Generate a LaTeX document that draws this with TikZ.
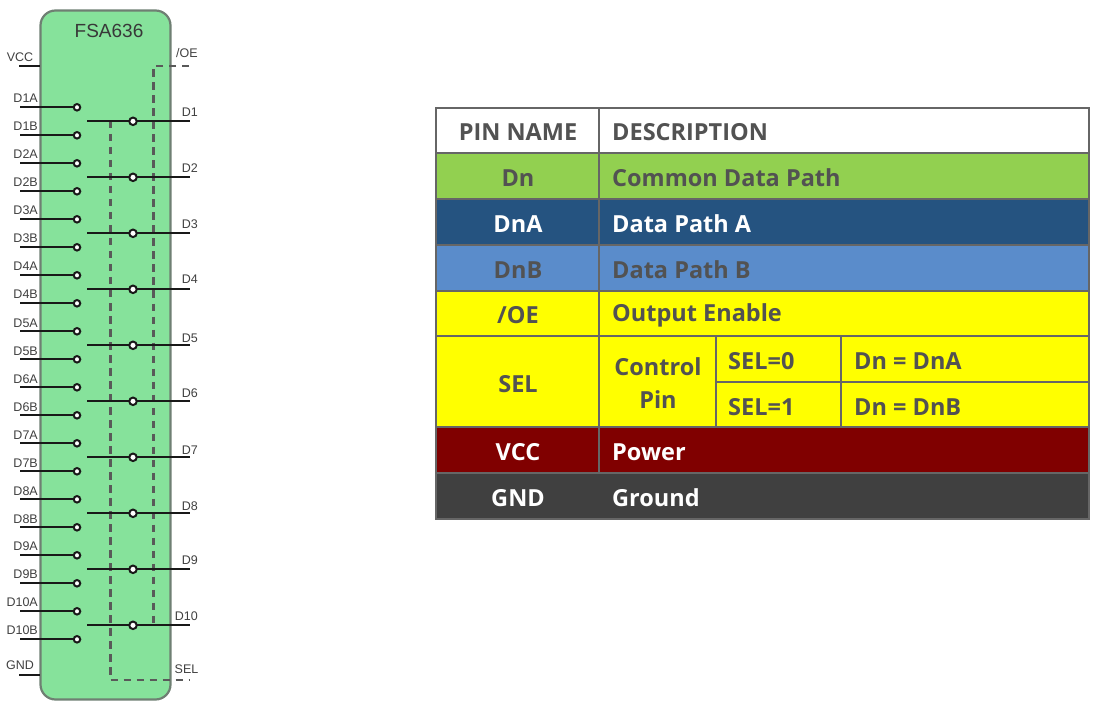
\documentclass[tikz,border=0pt]{standalone}
\usepackage{fontspec}
\setmainfont{Liberation Sans}
\newfontfamily\tabfont{Open Sans}
\begin{document}
\begin{tikzpicture}[x=1pt,y=-1pt,
  pinlabel/.style={inner sep=0pt,font=\fontsize{12.5}{13}\selectfont,text=black!75},
  wire/.style={line width=1.9pt,black!90},
  dashwire/.style={line width=2.3pt,black!65,line cap=butt,dash pattern=on 7.5pt off 5.5pt},
  term/.style={circle,draw=black!90,line width=2pt,fill=white,minimum size=6.5pt,inner sep=0pt},
  junct/.style={circle,draw=black!90,line width=2pt,fill=white,minimum size=7.5pt,inner sep=0pt},
  grid/.style={draw=black!60,line width=1.2pt},
  celltext/.style={inner sep=0pt,font=\tabfont\bfseries\fontsize{23.5}{26}\selectfont,text=black!68},
  lighttext/.style={celltext,text=white}]
\useasboundingbox (0,0) rectangle (1100,711);
\definecolor{chip}{HTML}{86E29B}
\definecolor{chipedge}{HTML}{6F7F73}
\definecolor{rowgreen}{HTML}{92D050}
\definecolor{rowdark}{HTML}{255380}
\definecolor{rowblue}{HTML}{5A8CCB}
\definecolor{rowmaroon}{HTML}{800000}
\definecolor{rowgrey}{HTML}{404040}
\definecolor{rowyellow}{RGB}{255,255,0}
% chip body
\node[draw=chipedge,fill=chip,line width=2.2pt,rounded corners=15pt,minimum width=130pt,minimum height=689pt,inner sep=0pt] (chip) at (105.5,355) {};
\node[inner sep=0pt,font=\fontsize{19}{20}\selectfont,text=black!78] (title) at (109,31) {FSA636};
% power pins
\coordinate (vcc) at (19,66);
\coordinate (vcci) at (40,66);
\coordinate (gnd) at (19,675);
\coordinate (gndi) at (40,675);
\draw[wire] (vcc) -- (vcci);
\draw[wire] (gnd) -- (gndi);
\node[pinlabel] (lvcc) at (20,57) {VCC};
\node[pinlabel] (lgnd) at (20,665.5) {GND};
\node[pinlabel] (loe) at (187,53) {/OE};
\node[pinlabel] (lsel) at (186.5,669.5) {SEL};
% dashed control lines
\coordinate (oeend) at (189,66);
\coordinate (oecorner) at (153.5,66);
\coordinate (oebot) at (153.5,625);
\coordinate (seltop) at (110.5,121);
\coordinate (selcorner) at (110.5,680);
\coordinate (selend) at (190,680);
\draw[dashwire] (oeend) -- (oecorner) -- (oebot);
\draw[dashwire] (seltop) -- (selcorner) -- (selend);
% switch inputs
\foreach \n/\lab/\ly [count=\i from 0] in {
 a1/D1A/98.5,b1/D1B/126,a2/D2A/154.5,b2/D2B/182,a3/D3A/210.5,b3/D3B/238,a4/D4A/266,b4/D4B/294,a5/D5A/323,b5/D5B/351,
 a6/D6A/379,b6/D6B/407,a7/D7A/435,b7/D7B/463,a8/D8A/491,b8/D8B/519.5,a9/D9A/546,b9/D9B/574,a10/D10A/602.5,b10/D10B/630.5}{
  \pgfmathsetmacro{\yy}{107.3+28*\i}
  \coordinate (s\n) at (20,\yy);
  \node[term] (t\n) at (77,\yy) {};
  \draw[wire] (s\n) -- (t\n);
  \node[pinlabel,anchor=east] (l\n) at (38,\ly) {\lab};
}
% common outputs
\foreach \k/\lab/\ly [count=\i from 0] in {1/D1/112,2/D2/168,3/D3/224.5,4/D4/279,5/D5/338,6/D6/393,7/D7/450,8/D8/506,9/D9/560,10/D10/616.5}{
  \pgfmathsetmacro{\yy}{121.3+56*\i}
  \coordinate (ds\k) at (87,\yy);
  \coordinate (de\k) at (190,\yy);
  \draw[wire] (ds\k) -- (de\k);
  \node[junct] (j\k) at (133,\yy) {};
  \node[pinlabel,anchor=east] (ld\k) at (198,\ly) {\lab};
}
% table fills
\fill[white] (436,108) rectangle (1089,153);
\fill[rowgreen] (436,153) rectangle (1089,199);
\fill[rowdark] (436,199) rectangle (1089,245);
\fill[rowblue] (436,245) rectangle (1089,291);
\fill[rowyellow] (436,291) rectangle (1089,427);
\fill[rowmaroon] (436,427) rectangle (1089,473);
\fill[rowgrey] (436,473) rectangle (1089,519);
% table rules
\draw[grid] (436,108) rectangle (1089,519);
\foreach \y in {153,199,245,291,336,427,473}{\draw[grid] (436,\y) -- (1089,\y);}
\draw[grid] (599,108) -- (599,473);
\draw[grid] (716,336) -- (716,427);
\draw[grid] (841,336) -- (841,427);
\draw[grid] (716,382) -- (1089,382);
% table text
\node[celltext] (h1) at (518,132.5) {PIN NAME};
\node[celltext,anchor=west] (h2) at (612,132.5) {DESCRIPTION};
\node[celltext] (c1) at (518,178) {Dn};
\node[celltext,anchor=west] (d1) at (612,178) {Common Data Path};
\node[lighttext] (c2) at (518,224) {DnA};
\node[lighttext,anchor=west] (d2) at (612,224) {Data Path A};
\node[celltext] (c3) at (518,270) {DnB};
\node[celltext,anchor=west] (d3) at (612,270) {Data Path B};
\node[celltext] (c4) at (518,315) {/OE};
\node[celltext,anchor=west] (d4) at (612,315) {Output Enable};
\node[celltext] (c5) at (518,384) {SEL};
\node[celltext] (cp1) at (658,367) {Control};
\node[celltext] (cp2) at (658,400) {Pin};
\node[celltext,anchor=west] (s0) at (728,361) {SEL=0};
\node[celltext,anchor=west] (s1) at (728,407) {SEL=1};
\node[celltext,anchor=west] (r0) at (854,361) {Dn = DnA};
\node[celltext,anchor=west] (r1) at (854,407) {Dn = DnB};
\node[lighttext] (c6) at (518,452) {VCC};
\node[lighttext,anchor=west] (d6) at (612,452) {Power};
\node[lighttext] (c7) at (518,498) {GND};
\node[lighttext,anchor=west] (d7) at (612,498) {Ground};
\end{tikzpicture}
\end{document}
